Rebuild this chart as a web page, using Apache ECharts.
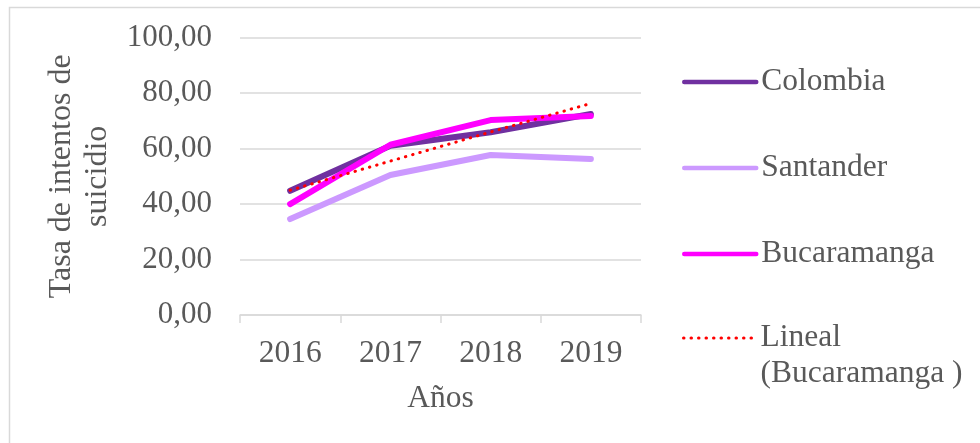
<!DOCTYPE html>
<html>
<head>
<meta charset="utf-8">
<script src="https://cdn.jsdelivr.net/npm/echarts@6/dist/echarts.min.js"></script>
<style>
  html, body { margin: 0; padding: 0; background: #ffffff; }
  #chart { width: 980px; height: 443px; }
</style>
</head>
<body>
<div id="chart"></div>
<script>
// datos
let anios = ['2016', '2017', '2018', '2019'];
let colombia = [44.8, 61.0, 65.9, 72.5];
let santander = [34.6, 50.5, 57.7, 56.3];
let bucaramanga = [40.0, 61.4, 70.3, 71.8];
let linealBucaramanga = [45.0, 55.5, 66.0, 76.3];

let fuente = 'Liberation Serif';
let gris = '#595959';
let nombreLineal = 'Lineal\n(Bucaramanga )';
let grosor = 6;

let myChart = echarts.init(document.getElementById('chart'));

let textoLeyenda = {
    fontFamily: fuente,
    fontSize: 31.5,
    lineHeight: 36,
    color: gris
};

let option = {
    backgroundColor: '#ffffff',
    animation: false,
    // borde exterior
    graphic: [{
        type: 'rect',
        shape: { x: 9.5, y: 7.5, width: 1000, height: 500 },
        style: { fill: 'none', stroke: '#d9d9d9', lineWidth: 1.5 },
        silent: true
    }],
    grid: {
        left: 240,
        right: 339,
        top: 37.7,
        bottom: 128
    },
    legend: [
        {
            orient: 'vertical',
            left: 677,
            top: 59,
            height: 380,
            itemWidth: 72,
            itemHeight: 14,
            itemGap: 50,
            itemStyle: { opacity: 0 },
            lineStyle: { width: 4.5 },
            textStyle: textoLeyenda,
            data: ['Colombia', 'Santander', 'Bucaramanga']
        },
        {
            // tendencia: linea vacia arriba para que el icono quede junto a "Lineal"
            orient: 'vertical',
            left: 677,
            top: 279,
            height: 200,
            itemWidth: 72,
            itemHeight: 14,
            itemStyle: { opacity: 0 },
            lineStyle: { width: 3 },
            textStyle: textoLeyenda,
            formatter: function (name) {
                return '\n' + name;
            },
            data: [nombreLineal]
        }
    ],
    xAxis: {
        type: 'category',
        data: anios,
        boundaryGap: true,
        name: 'Años',
        nameLocation: 'middle',
        nameGap: 66,
        nameTextStyle: { fontFamily: fuente, fontSize: 31.5, lineHeight: 36, color: gris },
        axisLine: { lineStyle: { color: '#d9d9d9', width: 1.5 } },
        axisTick: { show: true, length: 8, lineStyle: { color: '#d9d9d9', width: 1.5 } },
        axisLabel: { fontFamily: fuente, fontSize: 31.5, color: gris, margin: 23 },
        splitLine: { show: false }
    },
    yAxis: {
        type: 'value',
        min: 0,
        max: 100,
        interval: 20,
        name: 'Tasa de intentos de\nsuicidio',
        nameLocation: 'middle',
        nameGap: 124,
        nameTextStyle: { fontFamily: fuente, fontSize: 32, lineHeight: 36, color: gris },
        axisLine: { show: false },
        axisTick: { show: false },
        axisLabel: {
            fontFamily: fuente,
            fontSize: 31,
            color: gris,
            margin: 28,
            formatter: function (v) {
                return v.toFixed(2).replace('.', ',');
            }
        },
        splitLine: { lineStyle: { color: '#d9d9d9', width: 1.5 } }
    },
    series: [
        {
            name: 'Colombia',
            type: 'line',
            data: colombia,
            showSymbol: false,
            lineStyle: { color: '#7030A0', width: grosor, cap: 'round', join: 'round' },
            itemStyle: { color: '#7030A0' },
            z: 2
        },
        {
            name: 'Santander',
            type: 'line',
            data: santander,
            showSymbol: false,
            lineStyle: { color: '#CC99FF', width: grosor, cap: 'round', join: 'round' },
            itemStyle: { color: '#CC99FF' },
            z: 2
        },
        {
            name: 'Bucaramanga',
            type: 'line',
            data: bucaramanga,
            showSymbol: false,
            lineStyle: { color: '#FF00FF', width: grosor, cap: 'round', join: 'round' },
            itemStyle: { color: '#FF00FF' },
            z: 3
        },
        {
            name: nombreLineal,
            type: 'line',
            data: linealBucaramanga,
            showSymbol: false,
            lineStyle: { color: '#FF0000', width: 3, type: [0.5, 7], cap: 'round' },
            itemStyle: { color: '#FF0000' },
            z: 4
        }
    ]
};

myChart.setOption(option);

window.addEventListener('resize', function () {
    myChart.resize();
});
</script>
</body>
</html>
